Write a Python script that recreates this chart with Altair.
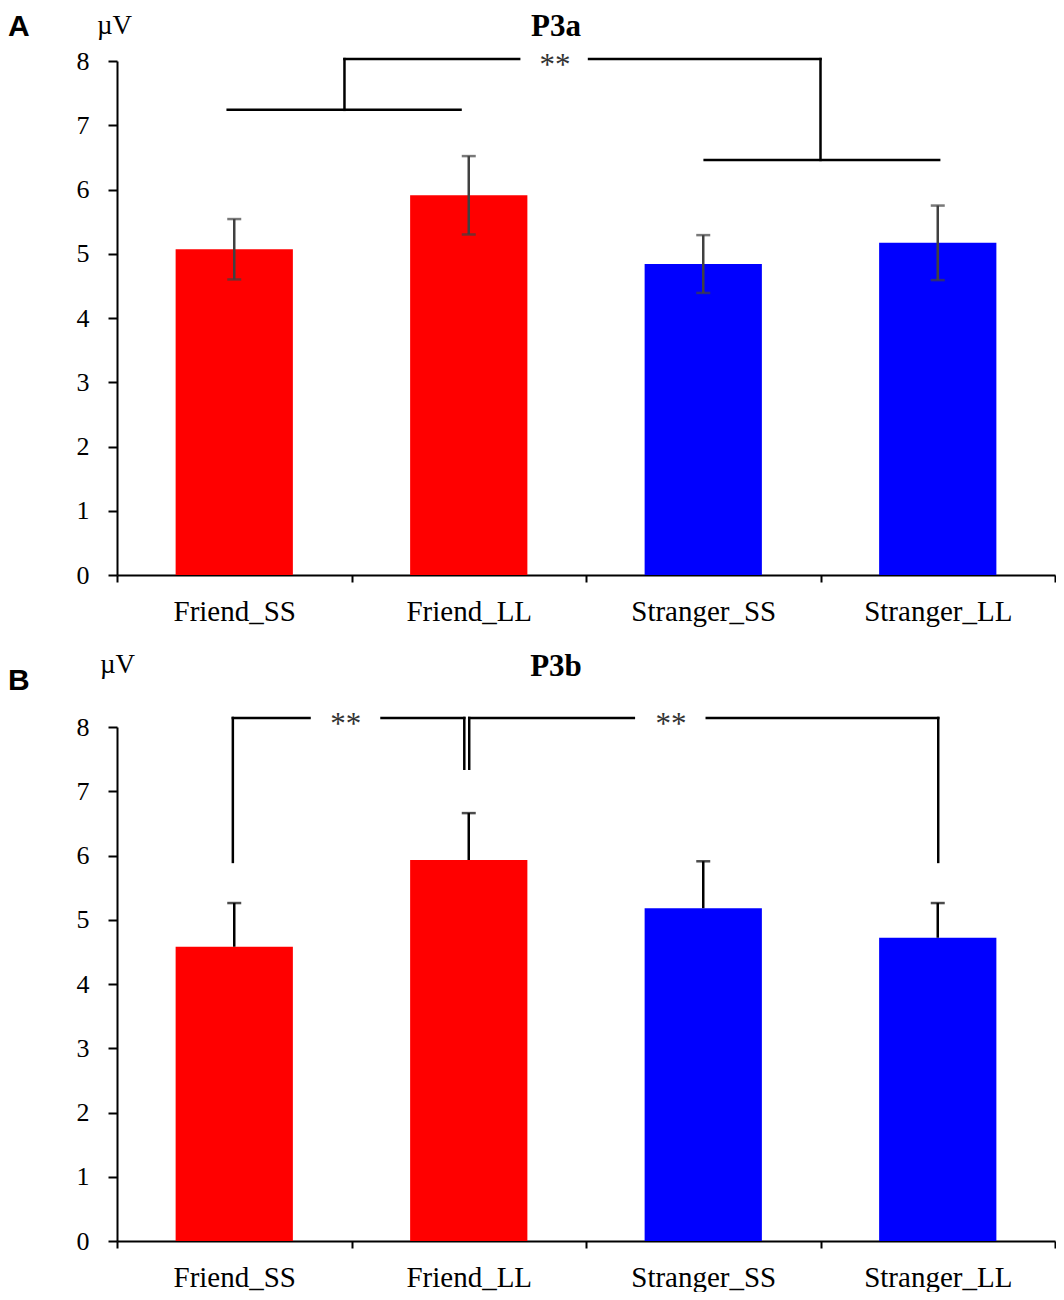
import altair as alt
import pandas as pd

categories = ["Friend_SS", "Friend_LL", "Stranger_SS", "Stranger_LL"]
bar_colors = ["#FF0000", "#FF0000", "#0000FF", "#0000FF"]

# Panel A (P3a): means and symmetric SE
a_mean = [5.07, 5.91, 4.84, 5.17]
a_err = [0.47, 0.61, 0.45, 0.58]

# Panel B (P3b): means and upper SE
b_mean = [4.58, 5.93, 5.18, 4.72]
b_err = [0.68, 0.73, 0.73, 0.54]

# significance brackets, in category-index units (0..4) and µV
a_seg_x = [0.472, 0.97, 0.97, 2.013, 3.0, 2.506]
a_seg_x2 = [1.465, 0.97, 1.715, 3.0, 3.0, 3.506]
a_seg_y = [7.24, 7.24, 8.03, 8.03, 6.46, 6.46]
a_seg_y2 = [7.24, 8.03, 8.03, 8.03, 8.03, 6.46]
a_star_x = [1.868]
a_star_y = [8.03]

b_seg_x = [0.494, 0.494, 1.128, 1.481, 1.502, 1.502, 2.515, 3.502]
b_seg_x2 = [0.494, 0.821, 1.481, 1.481, 1.502, 2.204, 3.502, 3.502]
b_seg_y = [5.90, 8.14, 8.14, 7.35, 7.35, 8.14, 8.14, 5.90]
b_seg_y2 = [8.14, 8.14, 8.14, 8.14, 8.14, 8.14, 8.14, 8.14]
b_star_x = [0.975, 2.362]
b_star_y = [8.14, 8.14]

SERIF = "Liberation Serif"
W, H = 938, 514


def yenc(field):
    return alt.Y(
        field,
        scale=alt.Scale(domain=[0, 8], nice=False),
        axis=alt.Axis(
            title=None, values=list(range(9)), grid=False,
            tickSize=9, tickWidth=2, tickColor="black",
            domainColor="black", domainWidth=2,
            labelFont=SERIF, labelFontSize=26, labelColor="black",
            labelPadding=19,
        ),
    )


def xenc():
    return alt.X(
        "cat:N", sort=categories,
        scale=alt.Scale(type="band", domain=categories, paddingInner=0, paddingOuter=0),
        axis=alt.Axis(
            title=None, labelAngle=0, tickBand="extent", grid=False,
            tickSize=7, tickWidth=2, tickColor="black",
            domainColor="black", domainWidth=2,
            labelFont=SERIF, labelFontSize=29, labelColor="black",
            labelPadding=15,
        ),
    )


def panel(mean, err, two_sided, sx, sx2, sy, sy2, stx, sty, title, letter,
          letter_y, unit_x, unit_y, title_y, err_color, top_room):
    df = pd.DataFrame({
        "cat": categories,
        "mean": mean,
        "hi": [m + e for m, e in zip(mean, err)],
        "lo": [m - e if two_sided else m for m, e in zip(mean, err)],
    })
    caps = df.melt(id_vars=["cat"], value_vars=["hi", "lo"] if two_sided else ["hi"],
                   value_name="v")

    bars = alt.Chart(df).mark_bar(width=alt.RelativeBandSize(0.5)).encode(
        x=xenc(), y=yenc("mean:Q"),
        color=alt.Color("cat:N", scale=alt.Scale(domain=categories, range=bar_colors),
                        legend=None),
    )
    rules = alt.Chart(df).mark_rule(strokeWidth=2.5, color=err_color).encode(
        x=xenc(), y=yenc("lo:Q"), y2="hi:Q"
    )
    ticks = alt.Chart(caps).mark_tick(size=14, thickness=2.5, color=err_color).encode(
        x=xenc(), y=yenc("v:Q")
    )
    main = alt.layer(bars, rules, ticks)

    segdf = pd.DataFrame({"x": sx, "x2": sx2, "y": sy, "y2": sy2})
    stardf = pd.DataFrame({"x": stx, "y": sty, "t": ["**"] * len(stx)})
    qx = alt.Scale(domain=[0, 4], nice=False, zero=False)
    seg = alt.Chart(segdf).mark_rule(strokeWidth=2.5, color="black", strokeCap="square").encode(
        x=alt.X("x:Q", scale=qx, axis=None), x2="x2:Q", y=yenc("y:Q"), y2="y2:Q"
    )
    stars = alt.Chart(stardf).mark_text(
        font=SERIF, fontSize=31, color="#333333", baseline="middle", align="center", dy=7
    ).encode(x=alt.X("x:Q", scale=qx, axis=None), y=yenc("y:Q"), text="t:N")
    ann = alt.layer(seg, stars)

    tdf = pd.DataFrame({"t": [title], "l": [letter], "u": ["µV"]})
    ttl = alt.Chart(tdf).mark_text(font=SERIF, fontSize=31, fontWeight="bold",
                                   align="center", baseline="alphabetic", color="black").encode(
        x=alt.value(439), y=alt.value(title_y), text="t:N")
    let = alt.Chart(tdf).mark_text(font="Liberation Sans", fontSize=30, fontWeight="bold",
                                   align="left", baseline="alphabetic", color="black").encode(
        x=alt.value(-109), y=alt.value(letter_y), text="l:N")
    unit = alt.Chart(tdf).mark_text(font=SERIF, fontSize=27,
                                    align="left", baseline="alphabetic", color="black").encode(
        x=alt.value(unit_x), y=alt.value(unit_y), text="u:N")
    # invisible spacer keeping some head room above the panel texts
    room = alt.Chart(tdf).mark_rule(strokeWidth=1, strokeOpacity=0).encode(
        x=alt.value(0), x2=alt.value(20), y=alt.value(top_room)
    )

    return alt.layer(main, ann, ttl, let, unit, room).resolve_scale(x="independent").properties(
        width=W, height=H
    )


pa = panel(a_mean, a_err, True, a_seg_x, a_seg_x2, a_seg_y, a_seg_y2, a_star_x, a_star_y,
           "P3a", "A", -25, -20, -27.5, -25, "#404040", -53)
pb = panel(b_mean, b_err, False, b_seg_x, b_seg_x2, b_seg_y, b_seg_y2, b_star_x, b_star_y,
           "P3b", "B", -37, -17, -54, -51, "black", -60)

chart = alt.vconcat(pa, pb, spacing=25, padding=0).configure_view(stroke=None)
chart.save("out.html", embed_options={"renderer": "svg", "actions": False})
